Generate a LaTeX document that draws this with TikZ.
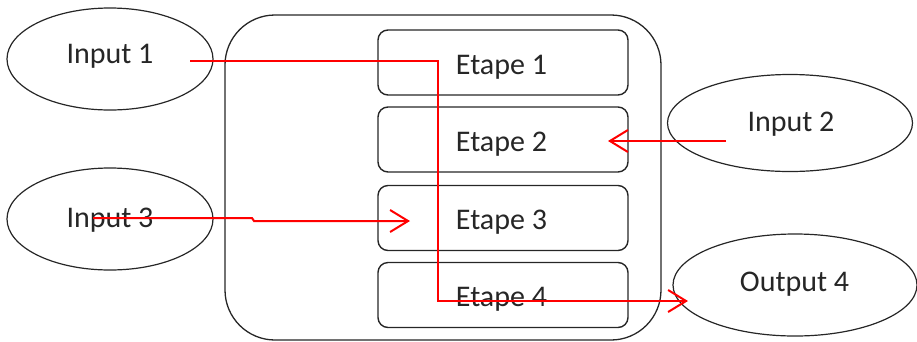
\documentclass[tikz,border=0pt]{standalone}
\usepackage{fontspec}
\setmainfont{Carlito}
\usetikzlibrary{shapes.geometric,arrows.meta}
\begin{document}
\begin{tikzpicture}[x=1pt,y=-1pt,
  every node/.style={font=\fontsize{30}{36}\selectfont, text=black!85},
  oval/.style={draw=black!85, line width=1.2pt, ellipse, inner sep=0pt},
  stage/.style={draw=black!85, line width=1.4pt, rounded corners=10pt, minimum width=250pt, minimum height=65pt, inner sep=0pt},
  flow/.style={draw=red, line width=2pt, -{Straight Barb[length=18pt,width=22pt,line width=2pt]}}]
\useasboundingbox (0,0) rectangle (917,341);
% container
\node[draw=black!85, line width=1.3pt, rounded corners=50pt, minimum width=436pt, minimum height=325pt, inner sep=0pt] (box) at (443,177.5) {};
% stages
\node[stage] (e1) at (503,62.5) {};
\node[stage] (e2) at (503,139.5) {};
\node[stage] (e3) at (503,218) {};
\node[stage] (e4) at (503,295) {};
\node at (501.5,67) {Etape 1};
\node at (501.5,144) {Etape 2};
\node at (501.5,222) {Etape 3};
\node at (501.5,299) {Etape 4};
% ellipses
\node[oval, minimum width=206pt, minimum height=102pt] (in1) at (110,59) {};
\node[oval, minimum width=206pt, minimum height=102pt] (in3) at (110,219) {};
\node[oval, minimum width=245pt, minimum height=97pt] (in2) at (790,123) {};
\node[oval, minimum width=244pt, minimum height=102pt] (out4) at (795,285) {};
\node at (110,56) {Input 1};
\node at (110,220) {Input 3};
\node at (791,124) {Input 2};
\node at (794.5,284) {Output 4};
% connector ends
\coordinate (s1) at (190,61);
\coordinate (t1) at (688,301);
\coordinate (s2) at (726,141);
\coordinate (t2) at (608,141);
\coordinate (s3) at (93,218);
\coordinate (t3) at (410,221);
% connectors
\draw[flow] (s1) -- (438,61) -- (438,301) -- (t1);
\draw[flow] (s2) -- (t2);
\draw[flow] (s3) -- (252,218) -- (254,221) -- (t3);
\end{tikzpicture}
\end{document}
